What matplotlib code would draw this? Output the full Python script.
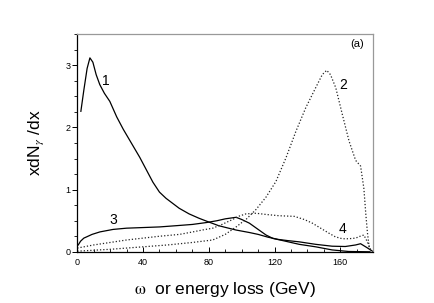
import numpy as np
import matplotlib
matplotlib.use('Agg')
import matplotlib.pyplot as plt
from matplotlib.ticker import MultipleLocator

plt.rcParams['font.family'] = ['Liberation Sans', 'DejaVu Sans']
plt.rcParams['mathtext.fontset'] = 'stix'

# curve 1 (solid)
x1 = [2.2, 4, 6, 7.7, 9.5, 11.5, 13.7, 16.5, 19.8, 24, 28, 34, 38, 42, 46, 50, 54, 58,
      62, 68, 74, 79.4, 86, 92, 96.6, 104.7, 110, 116, 122, 128, 135, 145, 155, 163,
      169.3, 172.3, 176, 179.5]
y1 = [2.26, 2.6, 2.95, 3.12, 3.05, 2.85, 2.69, 2.55, 2.42, 2.17, 1.97, 1.70, 1.52, 1.32,
      1.12, 0.96, 0.86, 0.78, 0.70, 0.61, 0.54, 0.485, 0.42, 0.38, 0.35, 0.31, 0.28, 0.235,
      0.2, 0.18, 0.16, 0.12, 0.09, 0.085, 0.11, 0.13, 0.07, 0.01]

# curve 2 (dotted)
x2 = [0, 20, 40, 55, 70, 82.4, 90, 96.6, 103, 108.7, 114.8, 120.8, 126.9, 133, 139, 145,
      149, 151.7, 154, 157.2, 161.2, 165.3, 169.3, 172.3, 174.3, 175.5, 176.5, 177.5, 178.5]
y2 = [0.01, 0.04, 0.08, 0.11, 0.15, 0.19, 0.28, 0.40, 0.53, 0.68, 0.88, 1.13, 1.51, 1.94,
      2.32, 2.64, 2.85, 2.92, 2.85, 2.64, 2.21, 1.78, 1.47, 1.38, 1.02, 0.6, 0.3, 0.08, 0.02]

# curve 3 (solid)
x3 = [0.6, 2, 4, 5.7, 9, 13.8, 21.8, 30, 40, 50, 60.2, 70, 78.4, 85, 90, 96.6, 100, 104.7,
      110, 114.8, 119, 125, 135, 145, 155, 165, 178]
y3 = [0.11, 0.17, 0.22, 0.24, 0.28, 0.32, 0.36, 0.38, 0.39, 0.40, 0.42, 0.44, 0.47, 0.50,
      0.53, 0.555, 0.52, 0.46, 0.36, 0.27, 0.215, 0.18, 0.12, 0.08, 0.03, 0.005, 0.0]

# curve 4 (dotted)
x4 = [0, 10, 20, 30, 40, 50, 62.2, 70.3, 76, 82.4, 88, 94.5, 98, 102.6, 108.7, 115, 122.8,
      132, 138, 143, 148, 153, 157, 161.2, 165, 169.3, 172, 174.3, 176.4, 178.5]
y4 = [0.06, 0.11, 0.15, 0.19, 0.22, 0.25, 0.28, 0.32, 0.35, 0.38, 0.44, 0.52, 0.57, 0.61,
      0.62, 0.60, 0.58, 0.57, 0.52, 0.46, 0.38, 0.30, 0.24, 0.21, 0.21, 0.22, 0.25, 0.27,
      0.16, 0.03]

labels = ['1', '2', '3', '4']
label_pos = [(17.4, 2.75), (161.8, 2.68), (21.8, 0.51), (161.2, 0.36)]

fig = plt.figure(figsize=(4.34, 3.03), dpi=100)
ax = fig.add_axes([0.178, 0.169, 0.682, 0.718])

dot = (0, (1, 1.6))
ax.plot(x1, y1, color='black', lw=0.9)
ax.plot(x3, y3, color='black', lw=0.9)
ax.plot(x2, y2, color='#222222', lw=0.9, linestyle=dot)
ax.plot(x4, y4, color='#222222', lw=0.9, linestyle=dot)

for lab, (lx, ly) in zip(labels, label_pos):
    ax.text(lx, ly, lab, fontsize=10, ha='center', va='center')
ax.text(0.97, 0.955, '(a)', transform=ax.transAxes, fontsize=8, ha='right', va='center')

ax.set_xlim(0, 180)
ax.set_ylim(0, 3.5)
ax.xaxis.set_major_locator(MultipleLocator(40))
ax.xaxis.set_minor_locator(MultipleLocator(10))
ax.yaxis.set_major_locator(MultipleLocator(1))
ax.yaxis.set_minor_locator(MultipleLocator(0.25))

ax.tick_params(axis='x', which='both', direction='in', labelsize=6.5, pad=4.5)
ax.tick_params(axis='x', which='major', length=3.5, width=0.7)
ax.tick_params(axis='x', which='minor', length=2, width=0.6)
ax.tick_params(axis='y', which='both', direction='out', labelsize=6.5, pad=1.5)
ax.tick_params(axis='y', which='major', length=3.5, width=0.7)
ax.tick_params(axis='y', which='minor', length=2.5, width=0.6)

for s in ['left', 'bottom']:
    ax.spines[s].set_color('black')
    ax.spines[s].set_linewidth(0.9)
for s in ['top', 'right']:
    ax.spines[s].set_color('#999999')
    ax.spines[s].set_linewidth(0.9)

ax.set_xlabel(r'$\mathrm{\omega}$  or energy loss (GeV)', fontsize=12.5, labelpad=9)
ax.set_ylabel(r'xdN$_{\gamma}$ /dx', fontsize=12.5, labelpad=14)

fig.savefig('out.png', dpi=100)
